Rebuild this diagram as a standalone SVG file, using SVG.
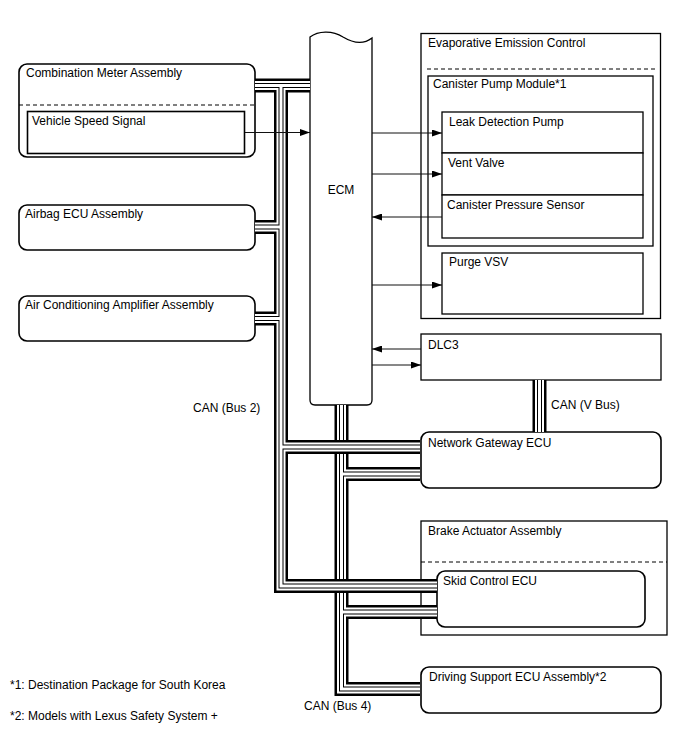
<svg xmlns="http://www.w3.org/2000/svg" xmlns:xlink="http://www.w3.org/1999/xlink" width="688" height="755" viewBox="0 0 688 755">
<style>
text{font-family:"Liberation Sans",Arial,sans-serif;font-size:12px;fill:#000}
.box{fill:#fff;stroke:#000;stroke-width:1.3}
.rbox{fill:#fff;stroke:#000;stroke-width:1.6}
.dash{fill:none;stroke:#000;stroke-width:1;stroke-dasharray:4 3}
.arr{fill:none;stroke:#111;stroke-width:1;marker-end:url(#ah)}
.l1{fill:none;stroke:#000;stroke-width:14}
.l2{fill:none;stroke:#fff;stroke-width:9}
.l3{fill:none;stroke:#000;stroke-width:5}
.l4{fill:none;stroke:#fff;stroke-width:3}
</style>
<defs>
<marker id="ah" markerUnits="userSpaceOnUse" markerWidth="10" markerHeight="7" refX="10" refY="3.5" orient="auto">
<path d="M0,0 L10,3.5 L0,7 Z" fill="#000"/>
</marker>
<path id="b4" d="M341.5,405 V689 H420 M341.5,474 H420 M341.5,612 H437"/>
<path id="b2" d="M255,85.5 H310 M281,85.5 V586 H437 M255,227 H281 M255,318.5 H281 M281,447 H420"/>
<path id="bv" d="M539.5,380 V432"/>
</defs>
<rect width="688" height="755" fill="#fff"/>

<g id="combination-meter">
<rect class="rbox" x="19" y="64" width="236" height="93" rx="8"/>
<line class="dash" x1="19" y1="105" x2="255" y2="105"/>
<text x="26" y="77">Combination Meter Assembly</text>
</g>
<g id="vehicle-speed-signal">
<rect class="box" x="27.5" y="111.5" width="217" height="42" style="stroke-width:1.6"/>
<text x="32" y="125">Vehicle Speed Signal</text>
</g>
<g id="airbag-ecu">
<rect class="rbox" x="19" y="205" width="236" height="45" rx="8"/>
<text x="25" y="218">Airbag ECU Assembly</text>
</g>
<g id="ac-amplifier">
<rect class="rbox" x="19" y="296" width="236" height="45" rx="8"/>
<text x="25" y="309">Air Conditioning Amplifier Assembly</text>
</g>

<g id="ecm">
<path class="box" d="M310,37 C318,31 332,30 343,37 C353,43 363,45 372,38 V400 Q372,405 367,405 H315 Q310,405 310,400 Z"/>
<text x="341" y="194" text-anchor="middle">ECM</text>
</g>

<g id="evap-control">
<rect class="box" x="421" y="33.5" width="239.5" height="285"/>
<line class="dash" x1="427" y1="69" x2="656" y2="69"/>
<text x="428" y="47">Evaporative Emission Control</text>
</g>
<g id="canister-pump-module">
<rect class="box" x="428" y="76" width="225" height="170"/>
<text x="433" y="88">Canister Pump Module*1</text>
</g>
<g id="leak-detection-pump">
<rect class="box" x="442" y="112" width="201" height="41"/>
<text x="449" y="126">Leak Detection Pump</text>
</g>
<g id="vent-valve">
<rect class="box" x="442" y="153" width="201" height="42"/>
<text x="448" y="167">Vent Valve</text>
</g>
<g id="canister-pressure-sensor">
<rect class="box" x="442" y="195" width="201" height="43"/>
<text x="447" y="209">Canister Pressure Sensor</text>
</g>
<g id="purge-vsv">
<rect class="box" x="442" y="253" width="201" height="61"/>
<text x="449" y="266">Purge VSV</text>
</g>

<g id="dlc3">
<rect class="box" x="421" y="334" width="240" height="46"/>
<text x="428" y="349">DLC3</text>
</g>
<text x="551" y="409">CAN (V Bus)</text>

<g id="network-gateway-ecu">
<rect class="rbox" x="421" y="432" width="240" height="56" rx="8"/>
<text x="428" y="447">Network Gateway ECU</text>
</g>

<g id="brake-actuator">
<rect class="box" x="421" y="521" width="246" height="114"/>
<line class="dash" x1="421" y1="562" x2="667" y2="562"/>
<text x="428" y="535">Brake Actuator Assembly</text>
</g>
<g id="skid-control-ecu">
<rect class="rbox" x="437" y="571" width="208" height="56" rx="8"/>
<text x="443" y="585">Skid Control ECU</text>
</g>

<g id="driving-support-ecu">
<rect class="rbox" x="421" y="667" width="240" height="46" rx="8"/>
<text x="429" y="681">Driving Support ECU Assembly*2</text>
</g>

<g id="connectors">
<use xlink:href="#b4" class="l1"/><use xlink:href="#b4" class="l2"/><use xlink:href="#b4" class="l3"/><use xlink:href="#b4" class="l4"/>
<use xlink:href="#b2" class="l1"/><use xlink:href="#b2" class="l2"/><use xlink:href="#b2" class="l3"/><use xlink:href="#b2" class="l4"/>
<use xlink:href="#bv" class="l1"/><use xlink:href="#bv" class="l2"/><use xlink:href="#bv" class="l3"/><use xlink:href="#bv" class="l4"/>
<line class="arr" x1="245" y1="132.5" x2="310" y2="132.5"/>
<line class="arr" x1="372" y1="133" x2="442" y2="133"/>
<line class="arr" x1="372" y1="174" x2="442" y2="174"/>
<line class="arr" x1="442" y1="217" x2="372" y2="217"/>
<line class="arr" x1="372" y1="285" x2="442" y2="285"/>
<line class="arr" x1="421" y1="349" x2="372" y2="349"/>
<line class="arr" x1="372" y1="365" x2="421" y2="365"/>
</g>

<text x="193" y="412">CAN (Bus 2)</text>
<text x="304" y="710">CAN (Bus 4)</text>
<text x="10" y="689">*1: Destination Package for South Korea</text>
<text x="10" y="720">*2: Models with Lexus Safety System +</text>
</svg>
